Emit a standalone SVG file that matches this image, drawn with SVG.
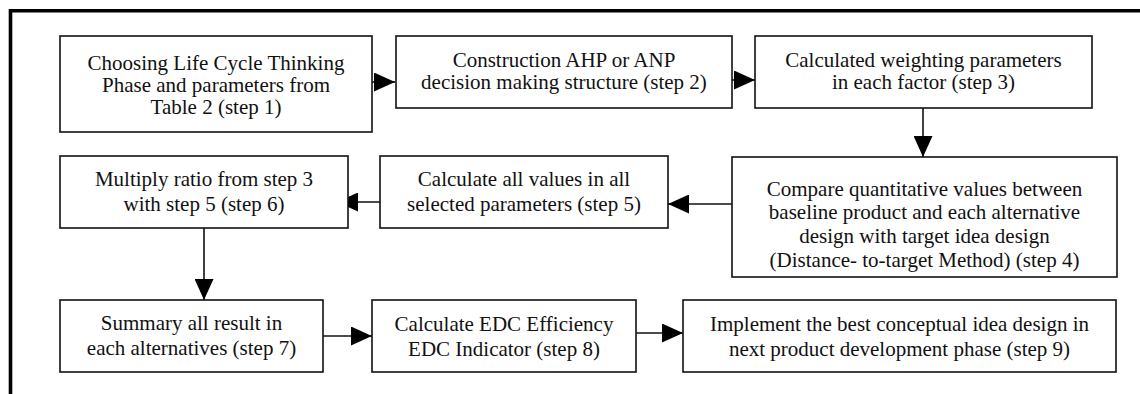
<svg xmlns="http://www.w3.org/2000/svg" width="1140" height="394" viewBox="0 0 1140 394">
<defs>
<style>
.box{fill:#fff;stroke:#111;stroke-width:1.6}
text{font-family:'Liberation Serif','Times New Roman','DejaVu Serif',serif;font-size:21px;fill:#111;text-anchor:middle}
.c{stroke:#111;stroke-width:1.6;fill:none;marker-end:url(#ah)}
</style>
<marker id="ah" markerUnits="userSpaceOnUse" markerWidth="21" markerHeight="19" viewBox="0 0 21 19" refX="21" refY="9.5" orient="auto">
<path d="M0,0 L21,9.5 L0,19 Z" fill="#000"/>
</marker>
</defs>
<rect width="1140" height="394" fill="#fff"/>
<path d="M10.5,394 V10.8 H1140" fill="none" stroke="#000" stroke-width="3.6"/>
<g id="connectors">
<line class="c" x1="372" y1="82" x2="395" y2="82"/>
<line class="c" x1="732" y1="80" x2="755" y2="80"/>
<line class="c" x1="923" y1="108" x2="923" y2="157"/>
<line class="c" x1="732" y1="204" x2="668" y2="204"/>
<line class="c" x1="383" y1="202" x2="337" y2="202"/>
<line class="c" x1="204" y1="228" x2="204" y2="300"/>
<line class="c" x1="323" y1="336" x2="372" y2="336"/>
<line class="c" x1="636" y1="333" x2="683" y2="333"/>
</g>
<g id="step1" font-family="Liberation Serif, serif">
<rect class="box" x="60" y="36" width="312" height="96"/>
<text x="216" y="70">Choosing Life Cycle Thinking</text>
<text x="216" y="92">Phase and parameters from</text>
<text x="216" y="114">Table 2 (step 1)</text>
</g>
<g id="step2">
<rect class="box" x="396" y="36" width="336" height="72"/>
<text x="564" y="67">Construction AHP or ANP</text>
<text x="564" y="89">decision making structure (step 2)</text>
</g>
<g id="step3">
<rect class="box" x="755" y="36" width="337" height="72"/>
<text x="923.5" y="67">Calculated weighting parameters</text>
<text x="923.5" y="89">in each factor (step 3)</text>
</g>
<g id="step4">
<rect class="box" x="732" y="157" width="385" height="120"/>
<text x="924.5" y="196">Compare quantitative values between</text>
<text x="924.5" y="219">baseline product and each alternative</text>
<text x="924.5" y="242.5">design with target idea design</text>
<text x="924.5" y="266.5">(Distance- to-target Method) (step 4)</text>
</g>
<g id="step5">
<rect class="box" x="380" y="156" width="288" height="72"/>
<text x="524" y="186">Calculate all values in all</text>
<text x="524" y="211">selected parameters (step 5)</text>
</g>
<g id="step6">
<rect class="box" x="60" y="156" width="288" height="72"/>
<text x="204" y="186">Multiply ratio from step 3</text>
<text x="204" y="211">with step 5 (step 6)</text>
</g>
<g id="step7">
<rect class="box" x="60" y="300" width="263" height="72"/>
<text x="191.5" y="330">Summary all result in</text>
<text x="191.5" y="355">each alternatives (step 7)</text>
</g>
<g id="step8">
<rect class="box" x="372" y="300" width="264" height="72"/>
<text x="504" y="331">Calculate EDC Efficiency</text>
<text x="504" y="356">EDC Indicator (step 8)</text>
</g>
<g id="step9">
<rect class="box" x="683" y="300" width="433" height="72"/>
<text x="899.5" y="331">Implement the best conceptual idea design in</text>
<text x="899.5" y="356">next product development phase (step 9)</text>
</g>
</svg>
